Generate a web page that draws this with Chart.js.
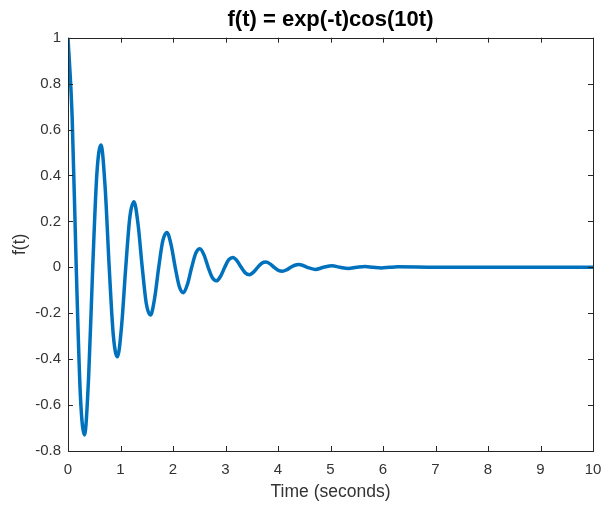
<!DOCTYPE html>
<html>
<head>
<meta charset="utf-8">
<script src="https://cdn.jsdelivr.net/npm/chart.js@4/dist/chart.umd.min.js"></script>
<style>
  html, body { margin: 0; padding: 0; background: #fff; }
  #wrap { width: 601px; height: 506px; }
</style>
</head>
<body>
<div id="wrap"><canvas id="plot" width="601" height="506"></canvas></div>
<script>
// time samples (seconds)
const tValues = [
  0, 0.079, 0.157, 0.236, 0.314, 0.393, 0.471, 0.550, 0.628, 0.707,
  0.785, 0.864, 0.942, 1.021, 1.100, 1.178, 1.257, 1.335, 1.414, 1.492,
  1.571, 1.649, 1.728, 1.806, 1.885, 1.963, 2.042, 2.121, 2.199, 2.278,
  2.356, 2.435, 2.513, 2.592, 2.670, 2.749, 2.827, 2.906, 2.985, 3.063,
  3.142, 3.220, 3.299, 3.377, 3.456, 3.534, 3.613, 3.691, 3.770, 3.848,
  3.927, 4.006, 4.084, 4.163, 4.241, 4.320, 4.398, 4.477, 4.555,
  4.712, 4.869, 5.027, 5.184, 5.341, 5.498, 5.655, 5.812, 5.969, 6.126, 6.283,
  7, 8, 9, 10
]
// f(t) values
const fValues = [
  1, 0.654, 0, -0.559, -0.730, -0.477, 0, 0.408, 0.533, 0.349,
  0, -0.298, -0.390, -0.255, 0, 0.218, 0.285, 0.186, 0, -0.159,
  -0.208, -0.136, 0, 0.116, 0.152, 0.099, 0, -0.085, -0.111, -0.072,
  0, 0.062, 0.081, 0.053, 0, -0.045, -0.059, -0.039, 0, 0.033,
  0.043, 0.028, 0, -0.024, -0.032, -0.021, 0, 0.018, 0.023, 0.015,
  0, -0.013, -0.017, -0.011, 0, 0.009, 0.012, 0.008, 0,
  -0.009, 0, 0.0066, 0, -0.0048, 0, 0.0035, 0, -0.0026, 0, 0.0019,
  0, 0, 0, 0
]
const xTicks = [0, 1, 2, 3, 4, 5, 6, 7, 8, 9, 10]
const yTicks = [-0.8, -0.6, -0.4, -0.2, 0, 0.2, 0.4, 0.6, 0.8, 1]

const points = tValues.map((t, i) => ({ x: t, y: fValues[i] }))
const axisColor = "#262626"
const textColor = "#333333"
const fontFamily = "'Liberation Sans', Arial, Helvetica, sans-serif"

// MATLAB style box with inward ticks
const boxPlugin = {
    id: "boxTicks",
    afterDatasetsDraw(chart) {
        const { ctx, chartArea: a, scales } = chart
        ctx.save()
        ctx.strokeStyle = axisColor
        ctx.lineWidth = 1
        ctx.beginPath()
        scales.x.ticks.forEach(tk => {
            const px = Math.round(scales.x.getPixelForValue(tk.value)) + 0.5
            ctx.moveTo(px, a.bottom); ctx.lineTo(px, a.bottom - 5)
            ctx.moveTo(px, a.top); ctx.lineTo(px, a.top + 5)
        })
        scales.y.ticks.forEach(tk => {
            const py = Math.round(scales.y.getPixelForValue(tk.value)) + 0.5
            ctx.moveTo(a.left, py); ctx.lineTo(a.left + 5, py)
            ctx.moveTo(a.right, py); ctx.lineTo(a.right - 5, py)
        })
        ctx.stroke()
        ctx.strokeRect(Math.round(a.left) + 0.5, Math.round(a.top) + 0.5,
            Math.round(a.right - a.left), Math.round(a.bottom - a.top))
        ctx.restore()
    }
}

new Chart(document.getElementById("plot").getContext("2d"), {
    type: "line",
    data: {
        datasets: [
            {
                label: "f(t)",
                data: points,
                borderColor: "#0072BD",
                borderWidth: 3.5,
                pointRadius: 0,
                cubicInterpolationMode: "monotone",
                fill: false
            }
        ]
    },
    options: {
        responsive: false,
        animation: false,
        layout: { padding: { left: 0, right: 8, top: 0, bottom: 0 } },
        plugins: {
            legend: { display: false },
            tooltip: { enabled: false },
            title: {
                display: true,
                text: "f(t) = exp(-t)cos(10t)",
                fullSize: false,
                color: "#000",
                font: { family: fontFamily, size: 22, weight: "bold", lineHeight: 1.2 },
                padding: { top: 7, bottom: 4.3 }
            }
        },
        scales: {
            x: {
                type: "linear",
                min: 0,
                max: 10,
                afterBuildTicks: s => { s.ticks = xTicks.map(v => ({ value: v })) },
                afterFit: s => { s.height = 55; s.paddingLeft = 0; s.paddingRight = 0 },
                grid: { display: false, drawTicks: false },
                border: { display: false },
                ticks: {
                    color: textColor,
                    padding: 10,
                    maxRotation: 0,
                    font: { family: fontFamily, size: 15 }
                },
                title: {
                    display: true,
                    text: "Time (seconds)",
                    color: textColor,
                    font: { family: fontFamily, size: 17.5 },
                    padding: { top: 0, bottom: 3 }
                }
            },
            y: {
                type: "linear",
                min: -0.8,
                max: 1,
                afterBuildTicks: s => { s.ticks = yTicks.map(v => ({ value: v })) },
                afterFit: s => { s.width = 68; s.paddingTop = 0; s.paddingBottom = 0 },
                grid: { display: false, drawTicks: false },
                border: { display: false },
                ticks: {
                    color: textColor,
                    padding: 7,
                    font: { family: fontFamily, size: 15 },
                    callback: v => String(Number(v.toFixed(1)))
                },
                title: {
                    display: true,
                    text: "f(t)",
                    color: textColor,
                    font: { family: fontFamily, size: 17.5 },
                    padding: { top: 10, bottom: 0 }
                }
            }
        }
    },
    plugins: [boxPlugin]
})
</script>
</body>
</html>
